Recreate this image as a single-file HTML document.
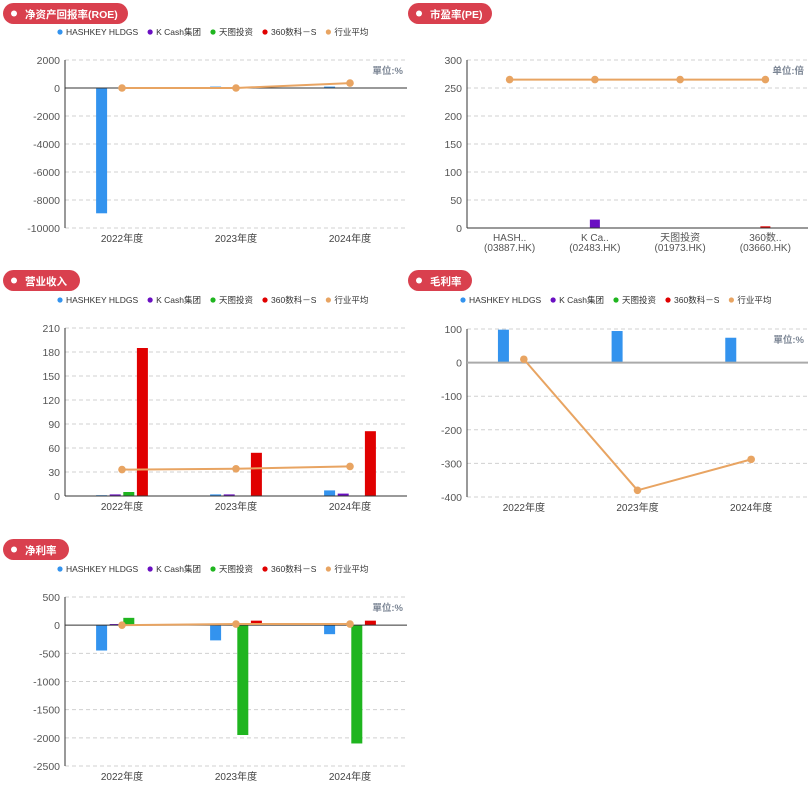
<!DOCTYPE html>
<html><head><meta charset="utf-8"><style>
body{margin:0;background:#fff;width:808px;height:794px;overflow:hidden;font-family:"Liberation Sans","Noto Sans CJK SC",sans-serif;}
svg text{font-family:"Liberation Sans","Noto Sans CJK SC",sans-serif;}
</style></head><body>
<svg id="s" width="808" height="794" xmlns="http://www.w3.org/2000/svg"></svg>
<script>
const seriesNames = ["HASHKEY HLDGS","K Cash集团","天图投资","360数科－S","行业平均"];
const colors = ["#3393ee","#6a0fc2","#1fb51f","#e00000","#e8a462"];
const years = ["2022年度","2023年度","2024年度"];
const roeBlue=[-8950,100,100], roePurple=[0,0,0], roeGreen=[0,0,0], roeRed=[0,0,30], roeAvg=[0,0,350];
const roeTicks=[2000,0,-2000,-4000,-6000,-8000,-10000];
const peCats=[["HASH..","(03887.HK)"],["K Ca..","(02483.HK)"],["天图投资","(01973.HK)"],["360数..","(03660.HK)"]];
const peBars=[0,15,0,3], peAvg=[265,265,265,265];
const peTicks=[300,250,200,150,100,50,0];
const revBlue=[1,2,7], revPurple=[2,2,3], revGreen=[5,0.5,0.5], revRed=[185,54,81], revAvg=[33,34,37];
const revTicks=[210,180,150,120,90,60,30,0];
const gmBlue=[98,94,74], gmPurple=[0,0,0], gmGreen=[0,0,0], gmRed=[0,0,0], gmAvg=[10,-380,-288];
const gmTicks=[100,0,-100,-200,-300,-400];
const nmBlue=[-450,-270,-160], nmPurple=[20,0,0], nmGreen=[130,-1950,-2100], nmRed=[20,80,80], nmAvg=[0,20,20];
const nmTicks=[500,0,-500,-1000,-1500,-2000,-2500];

const S=document.getElementById('s');const NS="http://www.w3.org/2000/svg";
function el(t,a,p){const e=document.createElementNS(NS,t);for(const k in a)e.setAttribute(k,a[k]);(p||S).appendChild(e);return e;}
function txt(x,y,s,a,p){const e=el('text',Object.assign({x:x,y:y},a),p);e.textContent=s;return e;}

function pill(x,y,w,title){
  const g=el('g',{});
  
  
  el('rect',{x:x,y:y,width:w,height:21,rx:10.5,fill:'#d9404e'},g);
  el('circle',{cx:x+11,cy:y+10.5,r:3,fill:'#fff'},g);
  txt(x+22,y+15,title,{'font-size':10.5,fill:'#fff','font-weight':'bold'},g);
}
function legend(x,y){
  const g=el('g',{});
  
  
  let cx=x;
  seriesNames.forEach((n,i)=>{
    const it=el('g',{},g);
    
    
    el('circle',{cx:cx,cy:y,r:2.6,fill:colors[i]},it);
    const t=txt(cx+6,y+3,n,{'font-size':8.5,fill:'#333'},it);
    cx+=6+t.getComputedTextLength()+12;
  });
}
function chart(o){
  const {x0,x1,yTop,yBot,ticks,cats,bars,avg,unit,zeroColor,zeroW,single}=o;
  const g=el('g',{});
  
  
  const max=ticks[0],min=ticks[ticks.length-1];
  const Y=v=>yTop+(max-v)/(max-min)*(yBot-yTop);
  const band=(x1-x0)/cats.length;
  const X=i=>x0+band*(i+0.5);
  ticks.forEach(t=>{
    if(t!==0||min===0) el('line',{x1:x0,x2:x1,y1:Y(t),y2:Y(t),stroke:'#d0d0d0','stroke-dasharray':'4,3','stroke-width':1},g);
    txt(x0-5,Y(t)+4,String(t),{'font-size':10.5,fill:'#555','text-anchor':'end'},g);
  });
  el('line',{x1:x0,x2:x0,y1:yTop,y2:yBot,stroke:'#333','stroke-width':1},g);
  if(unit) txt(x1-4,yTop+14,unit,{'font-size':9.5,fill:'#7b8594','text-anchor':'end','font-weight':'bold'},g);
  cats.forEach((c,i)=>{
    if(Array.isArray(c)){c.forEach((s,j)=>txt(X(i),yBot+13+j*10,s,{'font-size':10,fill:'#555','text-anchor':'middle'},g));}
    else txt(X(i),yBot+14,c,{'font-size':10,fill:'#444','text-anchor':'middle'},g);
  });
  const bw=11, step=13.6;
  if(single){
    bars.forEach((v,i)=>{
      const r=el('rect',{x:X(i)-5,y:Math.min(Y(v),Y(0)),width:10,height:Math.abs(Y(v)-Y(0)),fill:colors[i]},g);
      
      
    });
  } else {
    bars.forEach((arr,si)=>{
      arr.forEach((v,i)=>{
        const cx=X(i)+(si-1.5)*step;
        const r=el('rect',{x:cx-bw/2,y:Math.min(Y(v),Y(0)),width:bw,height:Math.max(Math.abs(Y(v)-Y(0)),0),fill:colors[si]},g);
        
        
      });
    });
  }
  el('line',{x1:x0,x2:x1,y1:Y(0),y2:Y(0),stroke:zeroColor||'#333','stroke-width':zeroW||1},g);
  const pts=avg.map((v,i)=>X(i)+','+Y(v)).join(' ');
  const pl=el('polyline',{points:pts,fill:'none',stroke:colors[4],'stroke-width':2},g);
  
  
  avg.forEach((v,i)=>{
    const c=el('circle',{cx:X(i),cy:Y(v),r:3.8,fill:colors[4]},g);
    
    
  });
}
pill(3,3,125,'净资产回报率(ROE)');
legend(60,32);
chart({name:'roe-chart',x0:65,x1:407,yTop:60,yBot:228,ticks:roeTicks,cats:years,bars:[roeBlue,roePurple,roeGreen,roeRed],avg:roeAvg,unit:'單位:%'});
pill(408,3,84,'市盈率(PE)');
chart({name:'pe-chart',x0:467,x1:808,yTop:60,yBot:228,ticks:peTicks,cats:peCats,bars:peBars,avg:peAvg,unit:'单位:倍',single:true});
pill(3,270,77,'营业收入');
legend(60,300);
chart({name:'revenue-chart',x0:65,x1:407,yTop:328,yBot:496,ticks:revTicks,cats:years,bars:[revBlue,revPurple,revGreen,revRed],avg:revAvg,unit:''});
pill(408,270,64,'毛利率');
legend(463,300);
chart({name:'gross-margin-chart',x0:467,x1:808,yTop:329,yBot:497,ticks:gmTicks,cats:years,bars:[gmBlue,gmPurple,gmGreen,gmRed],avg:gmAvg,unit:'單位:%',zeroColor:'#aaa',zeroW:2});
pill(3,539,66,'净利率');
legend(60,569);
chart({name:'net-margin-chart',x0:65,x1:407,yTop:597,yBot:766,ticks:nmTicks,cats:years,bars:[nmBlue,nmPurple,nmGreen,nmRed],avg:nmAvg,unit:'單位:%'});
</script>
</body></html>
